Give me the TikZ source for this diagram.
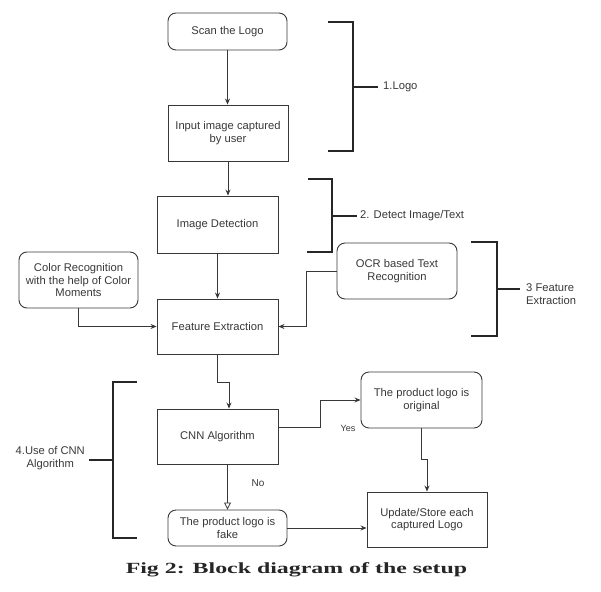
\documentclass[tikz,border=0pt]{standalone}
\usepackage{fontspec}
\setmainfont{Liberation Sans}
\newfontfamily\capfont{Liberation Serif}
\usetikzlibrary{arrows.meta}
\definecolor{ink}{gray}{0.22}
\definecolor{brk}{gray}{0.15}
\tikzset{
  box/.style={draw=ink, line width=0.9pt, inner sep=0pt, align=center, text=ink,
    font=\fontsize{11.2}{12.6}\selectfont},
  rbox/.style={box, rounded corners=8pt},
  arr/.style={draw=ink, line width=0.8pt, -{Stealth[length=6pt,width=5pt]}},
  oarr/.style={draw=ink, line width=0.8pt, -{Triangle[open,length=7pt,width=7pt]}},
  brace/.style={draw=brk, line width=2.2pt},
  lbl/.style={text=ink, font=\fontsize{11.2}{12.6}\selectfont, inner sep=0pt},
  small/.style={text=ink, font=\fontsize{9}{10}\selectfont, inner sep=0pt}
}
\begin{document}
\begin{tikzpicture}[x=1pt,y=-1pt]
\useasboundingbox (0,0) rectangle (601,591);
% boxes
\node[rbox, minimum width=119pt, minimum height=37pt] (scan) at (227.5,31.5) {Scan the Logo};
\node[box, minimum width=120pt, minimum height=56pt] (input) at (228,133) {Input image captured\\by user};
\node[box, minimum width=121pt, minimum height=57pt] (imgdet) at (217.5,224.5) {Image Detection};
\node[rbox, minimum width=119pt, minimum height=56pt] (color) at (78.5,280) {Color Recognition\\with the help of Color\\Moments};
\node[box, minimum width=121pt, minimum height=55pt] (feat) at (217.5,326.5) {Feature Extraction};
\node[rbox, minimum width=120pt, minimum height=56pt] (ocr) at (397,271) {OCR based Text\\Recognition};
\node[box, minimum width=121pt, minimum height=55pt] (cnn) at (217.5,436.5) {CNN Algorithm};
\node[rbox, minimum width=119pt, minimum height=36pt] (fake) at (227.5,528) {The product logo is\\fake};
\node[rbox, minimum width=121pt, minimum height=56pt] (orig) at (421.5,400) {The product logo is\\original};
\node[box, minimum width=120pt, minimum height=55pt] (update) at (427,519.5) {Update/Store each\\captured Logo};
% connectors
\draw[arr] (scan.south) -- (scan.south |- input.north);
\draw[arr] (input.south) -- (input.south |- imgdet.north);
\draw[arr] (imgdet) -- (feat);
\draw[arr] (color.south) |- (feat.west);
\draw[arr] (ocr.west) -- ++(-30,0) |- (feat.east);
\draw[arr] (feat.south) -- ++(0,28) -| ([xshift=11.5pt]cnn.north);
\draw[arr] ([yshift=9.5pt]cnn.east) -- ++(42,0) |- (orig.west);
\draw[oarr] (cnn.south -| fake.north) -- (fake.north);
\draw[arr] (orig.south) -- ++(0,31) -| (update.north);
\draw[arr] (fake.east) -- (fake.east -| update.west);
\node[small] (yes) at (348,428) {Yes};
\node[small, font=\fontsize{10}{11}\selectfont] (no) at (258,483) {No};
% brackets
\node[lbl, anchor=west] (l1) at (383,87) {1.Logo};
\draw[brace] (328,22) -- (353,22) -- (353,151) -- (328,151);
\draw[brace] (353,87) -- ([xshift=-5pt]l1.west);
\node[lbl, anchor=west] (l2) at (360,216) {2. Detect Image/Text};
\draw[brace] (308,179) -- (332,179) -- (332,252) -- (307,252);
\draw[brace] (332,216) -- ([xshift=-3pt]l2.west);
\node[lbl, anchor=west, align=left] (l3) at (526,294) {3 Feature\\Extraction};
\draw[brace] (471,242) -- (497,242) -- (497,336) -- (471,336);
\draw[brace] (497,289) -- (520,289);
\node[lbl, anchor=east, align=center] (l4) at (85,458) {4.Use of CNN\\Algorithm};
\draw[brace] (137,382) -- (113,382) -- (113,538) -- (137,538);
\draw[brace] (113,460) -- (89,460);
% caption
\node[inner sep=0pt, text=black!85] (cap) at (296.5,570) {\scalebox{1.54}[1]{\capfont\bfseries\fontsize{15.5}{17}\selectfont Fig 2: Block diagram of the setup}};
\end{tikzpicture}
\end{document}
